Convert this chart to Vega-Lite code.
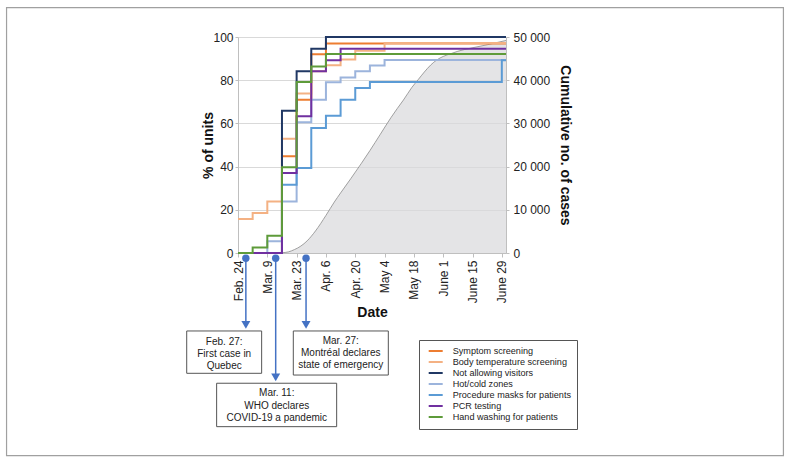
{
  "$schema": "https://vega.github.io/schema/vega-lite/v6.json",
  "width": 268,
  "height": 216,
  "autosize": {"type": "none"},
  "padding": {"left": 238, "top": 37, "right": 285, "bottom": 213},
  "background": "white",
  "config": {
    "font": "Liberation Sans",
    "view": {"stroke": null},
    "axis": {"labelColor": "#222", "titleColor": "#111", "labelFont": "Liberation Sans", "titleFont": "Liberation Sans"}
  },
  "datasets": {
    "steps": [
      {"series": "Symptom screening", "date": "2020-02-24", "pct": 0},
      {"series": "Symptom screening", "date": "2020-03-16", "pct": 44.8},
      {"series": "Symptom screening", "date": "2020-03-23", "pct": 71},
      {"series": "Symptom screening", "date": "2020-03-30", "pct": 92},
      {"series": "Symptom screening", "date": "2020-04-06", "pct": 97},
      {"series": "Symptom screening", "date": "2020-07-01", "pct": 97},
      {"series": "Body temperature screening", "date": "2020-02-24", "pct": 15.7},
      {"series": "Body temperature screening", "date": "2020-03-02", "pct": 18.5},
      {"series": "Body temperature screening", "date": "2020-03-09", "pct": 23.9},
      {"series": "Body temperature screening", "date": "2020-03-16", "pct": 52.9},
      {"series": "Body temperature screening", "date": "2020-03-23", "pct": 73.8},
      {"series": "Body temperature screening", "date": "2020-03-30", "pct": 84.1},
      {"series": "Body temperature screening", "date": "2020-04-06", "pct": 86.9},
      {"series": "Body temperature screening", "date": "2020-04-13", "pct": 89.6},
      {"series": "Body temperature screening", "date": "2020-04-20", "pct": 93.6},
      {"series": "Body temperature screening", "date": "2020-05-04", "pct": 97.2},
      {"series": "Body temperature screening", "date": "2020-07-01", "pct": 97.2},
      {"series": "Not allowing visitors", "date": "2020-02-24", "pct": 0},
      {"series": "Not allowing visitors", "date": "2020-03-16", "pct": 65.9},
      {"series": "Not allowing visitors", "date": "2020-03-23", "pct": 84.1},
      {"series": "Not allowing visitors", "date": "2020-03-30", "pct": 94.6},
      {"series": "Not allowing visitors", "date": "2020-04-06", "pct": 100},
      {"series": "Not allowing visitors", "date": "2020-07-01", "pct": 100},
      {"series": "Hot/cold zones", "date": "2020-02-24", "pct": 0},
      {"series": "Hot/cold zones", "date": "2020-03-09", "pct": 5.4},
      {"series": "Hot/cold zones", "date": "2020-03-16", "pct": 23.9},
      {"series": "Hot/cold zones", "date": "2020-03-23", "pct": 60.5},
      {"series": "Hot/cold zones", "date": "2020-03-30", "pct": 71},
      {"series": "Hot/cold zones", "date": "2020-04-06", "pct": 79},
      {"series": "Hot/cold zones", "date": "2020-04-13", "pct": 81.3},
      {"series": "Hot/cold zones", "date": "2020-04-20", "pct": 84.1},
      {"series": "Hot/cold zones", "date": "2020-04-27", "pct": 86.8},
      {"series": "Hot/cold zones", "date": "2020-05-04", "pct": 89.3},
      {"series": "Hot/cold zones", "date": "2020-07-01", "pct": 89.3},
      {"series": "Procedure masks for patients", "date": "2020-02-24", "pct": 0},
      {"series": "Procedure masks for patients", "date": "2020-03-16", "pct": 31.6},
      {"series": "Procedure masks for patients", "date": "2020-03-23", "pct": 39.4},
      {"series": "Procedure masks for patients", "date": "2020-03-30", "pct": 57.9},
      {"series": "Procedure masks for patients", "date": "2020-04-06", "pct": 63.5},
      {"series": "Procedure masks for patients", "date": "2020-04-13", "pct": 71},
      {"series": "Procedure masks for patients", "date": "2020-04-20", "pct": 76.4},
      {"series": "Procedure masks for patients", "date": "2020-04-27", "pct": 79.2},
      {"series": "Procedure masks for patients", "date": "2020-06-29", "pct": 89.2},
      {"series": "Procedure masks for patients", "date": "2020-07-01", "pct": 89.2},
      {"series": "PCR testing", "date": "2020-02-24", "pct": 0},
      {"series": "PCR testing", "date": "2020-03-16", "pct": 37},
      {"series": "PCR testing", "date": "2020-03-23", "pct": 63.3},
      {"series": "PCR testing", "date": "2020-03-30", "pct": 84.1},
      {"series": "PCR testing", "date": "2020-04-06", "pct": 89.2},
      {"series": "PCR testing", "date": "2020-04-13", "pct": 94.6},
      {"series": "PCR testing", "date": "2020-07-01", "pct": 94.6},
      {"series": "Hand washing for patients", "date": "2020-02-24", "pct": 0},
      {"series": "Hand washing for patients", "date": "2020-03-02", "pct": 2.6},
      {"series": "Hand washing for patients", "date": "2020-03-09", "pct": 8},
      {"series": "Hand washing for patients", "date": "2020-03-16", "pct": 39.7},
      {"series": "Hand washing for patients", "date": "2020-03-23", "pct": 79.2},
      {"series": "Hand washing for patients", "date": "2020-03-30", "pct": 86.4},
      {"series": "Hand washing for patients", "date": "2020-04-06", "pct": 92.1},
      {"series": "Hand washing for patients", "date": "2020-07-01", "pct": 92.1}
    ],
    "cases": [
      {"date": "2020-03-12", "cases": 0},
      {"date": "2020-03-16", "cases": 60},
      {"date": "2020-03-19", "cases": 250},
      {"date": "2020-03-22", "cases": 800},
      {"date": "2020-03-25", "cases": 1600},
      {"date": "2020-03-28", "cases": 2800},
      {"date": "2020-04-01", "cases": 5100},
      {"date": "2020-04-06", "cases": 8700},
      {"date": "2020-04-10", "cases": 11800},
      {"date": "2020-04-13", "cases": 13900},
      {"date": "2020-04-18", "cases": 17300},
      {"date": "2020-04-23", "cases": 20800},
      {"date": "2020-04-27", "cases": 23700},
      {"date": "2020-05-02", "cases": 27500},
      {"date": "2020-05-07", "cases": 31300},
      {"date": "2020-05-10", "cases": 33400},
      {"date": "2020-05-13", "cases": 35400},
      {"date": "2020-05-17", "cases": 38300},
      {"date": "2020-05-20", "cases": 40100},
      {"date": "2020-05-23", "cases": 41900},
      {"date": "2020-05-26", "cases": 43500},
      {"date": "2020-05-29", "cases": 44700},
      {"date": "2020-06-01", "cases": 45500},
      {"date": "2020-06-05", "cases": 46200},
      {"date": "2020-06-08", "cases": 46700},
      {"date": "2020-06-14", "cases": 47400},
      {"date": "2020-06-22", "cases": 48200},
      {"date": "2020-07-01", "cases": 49200}
    ],
    "events": [
      {"date": "2020-02-27T18:00:00Z", "pct": -2.45, "pct2": -33.5},
      {"date": "2020-03-13T00:00:00Z", "pct": -2.45, "pct2": -57.8},
      {"date": "2020-03-27T12:00:00Z", "pct": -2.45, "pct2": -33.5}
    ],
    "heads": [
      {"date": "2020-02-27T18:00:00Z", "pct": -33.3},
      {"date": "2020-03-13T00:00:00Z", "pct": -57.6},
      {"date": "2020-03-27T12:00:00Z", "pct": -33.3}
    ],
    "boxes": [
      {"date": "2020-01-30T12:00:00Z", "date2": "2020-03-06T07:00:00Z", "pct": -36.1, "pct2": -55.7},
      {"date": "2020-03-21T10:00:00Z", "date2": "2020-05-05T19:00:00Z", "pct": -36.1, "pct2": -56.5},
      {"date": "2020-02-13T19:00:00Z", "date2": "2020-04-11T03:00:00Z", "pct": -60.3, "pct2": -80.4}
    ],
    "labels": [
      {"date": "2020-02-17T10:00:00Z", "pct": -41.1, "text": "Feb. 27:\nFirst case in\nQuebec"},
      {"date": "2020-04-13T02:00:00Z", "pct": -40.6, "text": "Mar. 27:\nMontréal declares\nstate of emergency"},
      {"date": "2020-03-13T12:00:00Z", "pct": -65.0, "text": "Mar. 11:\nWHO declares\nCOVID-19 a pandemic"}
    ],
    "frame": [
      {"date": "2019-11-05T11:00:00Z", "date2": "2020-11-10T12:00:00Z", "pct": 113.6, "pct2": -93.8}
    ]
  },
  "encoding": {
    "x": {"field": "date", "type": "temporal", "title": "Date",
      "scale": {"type": "utc", "domain": [{"year": 2020, "month": 2, "date": 24, "utc": true}, {"year": 2020, "month": 7, "date": 1, "utc": true}]},
      "axis": {"title": "Date", "values": [
        {"year": 2020, "month": 2, "date": 24, "utc": true}, {"year": 2020, "month": 3, "date": 9, "utc": true},
        {"year": 2020, "month": 3, "date": 23, "utc": true}, {"year": 2020, "month": 4, "date": 6, "utc": true},
        {"year": 2020, "month": 4, "date": 20, "utc": true}, {"year": 2020, "month": 5, "date": 4, "utc": true},
        {"year": 2020, "month": 5, "date": 18, "utc": true}, {"year": 2020, "month": 6, "date": 1, "utc": true},
        {"year": 2020, "month": 6, "date": 15, "utc": true}, {"year": 2020, "month": 6, "date": 29, "utc": true}],
        "labelExpr": "['Jan.','Feb.','Mar.','Apr.','May','June','July'][utcmonth(datum.value)] + ' ' + utcdate(datum.value)",
        "labelAngle": -90, "labelFontSize": 12, "tickSize": 4, "labelPadding": 3, "domainColor": "#bfbfbf", "tickColor": "#bfbfbf",
        "grid": false, "titleFontSize": 14, "titleFontWeight": "bold", "titlePadding": 3,
        "labelFlush": false, "labelOverlap": false, "labelBound": false, "labelSeparation": 0}}
  },
  "layer": [
    {
      "data": {"name": "cases"},
      "mark": {"type": "area", "interpolate": "monotone", "fill": "#d9d9db", "line": {"stroke": "#8a8a8a", "strokeWidth": 0.8}},
      "encoding": {
        "y": {"field": "cases", "type": "quantitative", "scale": {"domain": [0, 50000]},
          "axis": {"orient": "right", "title": "Cumulative no. of cases", "values": [0, 10000, 20000, 30000, 40000, 50000],
            "labelExpr": "replace(format(datum.value, ','), ',', ' ')", "grid": false,
            "domainColor": "#bfbfbf", "tickColor": "#bfbfbf", "tickSize": 3, "labelFontSize": 12, "labelPadding": 4,
            "titleFontSize": 14, "titleFontWeight": "bold", "titlePadding": 8}}
      }
    },
    {
      "encoding": {
        "y": {"field": "pct", "type": "quantitative", "title": "% of units", "scale": {"domain": [0, 100]},
          "axis": {"title": "% of units", "values": [0, 20, 40, 60, 80, 100], "grid": true, "gridColor": "#d9d9d9",
            "domainColor": "#bfbfbf", "tickColor": "#bfbfbf", "tickSize": 3, "labelFontSize": 12, "labelPadding": 2,
            "titleFontSize": 14, "titleFontWeight": "bold", "titlePadding": -3}}
      },
      "layer": [
        {
          "data": {"name": "steps"},
          "mark": {"type": "line", "interpolate": "step-after", "strokeWidth": 2},
          "encoding": {
            "color": {"field": "series", "type": "nominal",
              "scale": {"domain": ["Symptom screening", "Body temperature screening", "Not allowing visitors", "Hot/cold zones", "Procedure masks for patients", "PCR testing", "Hand washing for patients"],
                "range": ["#ED7D31", "#F4B183", "#203864", "#9CB4DC", "#5B9BD5", "#7030A0", "#5E9B3A"]},
              "legend": {"orient": "none", "legendX": 181, "legendY": 303, "title": null, "symbolType": "M-1.75,0L1.75,0", "symbolSize": 64,
                "symbolStrokeWidth": 2, "labelFontSize": 9.1, "rowPadding": 0, "padding": 6, "strokeColor": "#555", "fillColor": "white",
                "labelOffset": 12, "symbolOffset": 5.7, "labelColor": "#222"}}
          }
        },
        {
          "data": {"name": "events"},
          "mark": {"type": "rule", "color": "#4472C4", "strokeWidth": 1.5},
          "encoding": {"y2": {"field": "pct2"}}
        },
        {
          "data": {"name": "events"},
          "mark": {"type": "point", "shape": "circle", "filled": true, "color": "#4472C4", "size": 55, "opacity": 1},
          "encoding": {}
        },
        {
          "data": {"name": "heads"},
          "mark": {"type": "point", "shape": "triangle-down", "filled": true, "color": "#4472C4", "size": 80, "opacity": 1},
          "encoding": {}
        },
        {
          "data": {"name": "boxes"},
          "mark": {"type": "rect", "fill": "white", "stroke": "#555", "strokeWidth": 1},
          "encoding": {"x2": {"field": "date2"}, "y2": {"field": "pct2"}}
        },
        {
          "data": {"name": "labels"},
          "mark": {"type": "text", "lineBreak": "\n", "fontSize": 10, "lineHeight": 12.3, "align": "center", "baseline": "middle", "color": "#222"},
          "encoding": {"text": {"field": "text"}}
        },
        {
          "data": {"name": "frame"},
          "mark": {"type": "rect", "fill": null, "stroke": "#a0a0a0", "strokeWidth": 1.2},
          "encoding": {"x2": {"field": "date2"}, "y2": {"field": "pct2"}}
        }
      ]
    }
  ],
  "resolve": {"scale": {"y": "independent"}}
}
